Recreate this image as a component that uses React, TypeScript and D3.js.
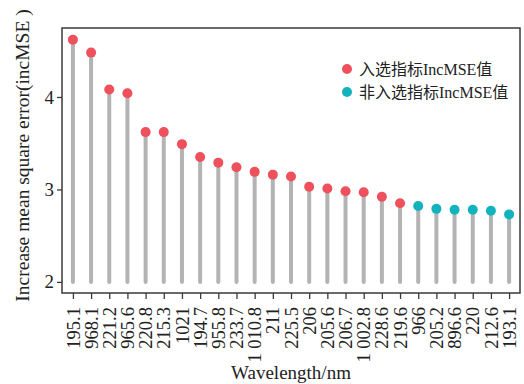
import { useEffect, useRef } from "react";

import * as d3 from "d3";

// wavelengths in order of importance
const wavelengths = [
  "195.1", "968.1", "221.2", "965.6", "220.8", "215.3", "1021", "194.7",
  "955.8", "233.7", "1 010.8", "211", "225.5", "206", "205.6", "206.7",
  "1 002.8", "228.6", "219.6", "966", "205.2", "896.6", "220", "212.6", "193.1",
];

const incMSE = [
  4.62, 4.48, 4.08, 4.04, 3.62, 3.62, 3.49, 3.35, 3.29, 3.24, 3.19, 3.16,
  3.14, 3.03, 3.01, 2.98, 2.97, 2.92, 2.85, 2.82, 2.79, 2.78, 2.78, 2.77, 2.73,
];

// first 19 wavelengths were selected
const selectedCount = 19;

const yTicks = [2, 3, 4];

const legendLabels = ["入选指标IncMSE值", "非入选指标IncMSE值"];
const colors = ["#ee505c", "#12b3bd"];

const App = () => {
  const svgRef = useRef<SVGSVGElement | null>(null);

  useEffect(() => {
    if (!svgRef.current) return;
    const width = 524;
    const height = 384;
    const margin = { top: 28, right: 4, bottom: 91, left: 62 };

    const svg = d3.select(svgRef.current);
    svg.selectAll("*").remove();

    svg
      .append("rect")
      .attr("width", width)
      .attr("height", height)
      .attr("fill", "#ffffff");

    const x = d3
      .scalePoint<string>()
      .domain(wavelengths.map((d, i) => i + ""))
      .range([margin.left, width - margin.right])
      .padding(0.6);

    const y = d3
      .scaleLinear()
      .domain([1.88, 4.746])
      .range([height - margin.bottom, margin.top]);

    const data = wavelengths.map((w, i) => ({
      key: i + "",
      label: w,
      value: incMSE[i],
      selected: i < selectedCount,
    }));

    const font = "Liberation Serif, DejaVu Serif, serif";
    const cjkFont = "Liberation Serif, Noto Sans CJK SC, serif";

    // stems
    svg
      .append("g")
      .selectAll("line")
      .data(data)
      .join("line")
      .attr("x1", (d) => x(d.key)!)
      .attr("x2", (d) => x(d.key)!)
      .attr("y1", y(2))
      .attr("y2", (d) => y(d.value))
      .attr("stroke", "#b3b3b3")
      .attr("stroke-width", 4)
      .attr("stroke-linecap", "round");

    // points
    svg
      .append("g")
      .selectAll("circle")
      .data(data)
      .join("circle")
      .attr("cx", (d) => x(d.key)!)
      .attr("cy", (d) => y(d.value))
      .attr("r", 5)
      .attr("fill", (d) => (d.selected ? colors[0] : colors[1]));

    // frame
    svg
      .append("rect")
      .attr("x", margin.left)
      .attr("y", margin.top)
      .attr("width", width - margin.left - margin.right)
      .attr("height", height - margin.top - margin.bottom)
      .attr("fill", "none")
      .attr("stroke", "#3a3a3a")
      .attr("stroke-width", 1.5);

    // y axis
    const yAxis = svg
      .append("g")
      .attr("transform", `translate(${margin.left},0)`)
      .call(
        d3
          .axisLeft(y)
          .tickValues(yTicks)
          .tickSize(5)
          .tickPadding(3)
          .tickFormat(d3.format("d"))
      );
    yAxis.select(".domain").remove();
    yAxis.selectAll("line").attr("stroke", "#3a3a3a").attr("stroke-width", 1.3);
    yAxis
      .selectAll("text")
      .style("font-family", font)
      .style("font-size", "19px")
      .attr("fill", "#222");

    // x axis
    const xAxis = svg
      .append("g")
      .attr("transform", `translate(0,${height - margin.bottom})`)
      .call(
        d3
          .axisBottom(x)
          .tickSize(6)
          .tickPadding(4)
          .tickFormat((d) => wavelengths[+d])
      );
    xAxis.select(".domain").remove();
    xAxis.selectAll("line").attr("stroke", "#3a3a3a").attr("stroke-width", 1.3);
    xAxis
      .selectAll("text")
      .style("font-family", font)
      .style("font-size", "18.5px")
      .attr("fill", "#222")
      .attr("transform", "rotate(-90)")
      .attr("x", -14)
      .attr("y", 0)
      .attr("dy", "0.33em")
      .style("text-anchor", "end");

    // axis titles
    svg
      .append("text")
      .attr("x", (margin.left + width - margin.right) / 2)
      .attr("y", 379)
      .attr("text-anchor", "middle")
      .style("font-family", font)
      .style("font-size", "19px")
      .attr("fill", "#222")
      .text("Wavelength/nm");

    svg
      .append("text")
      .attr("transform", `translate(29,${(margin.top + height - margin.bottom) / 2 - 5}) rotate(-90)`)
      .attr("text-anchor", "middle")
      .style("font-family", font)
      .style("font-size", "19.5px")
      .attr("fill", "#222")
      .text("Increase mean square error(incMSE )");

    // legend
    const legend = svg.append("g").attr("transform", "translate(347,69)");
    legendLabels.forEach((label, i) => {
      legend
        .append("circle")
        .attr("cx", 0)
        .attr("cy", i * 23)
        .attr("r", 5)
        .attr("fill", colors[i]);
      legend
        .append("text")
        .attr("x", 12)
        .attr("y", i * 23 + 6)
        .style("font-family", cjkFont)
        .style("font-size", "16px")
        .attr("fill", "#222")
        .text(label);
    });
  }, []);

  return (
    <svg
      ref={svgRef}
      width={524}
      height={384}
      style={{ position: "absolute", left: 0, top: 0 }}
    ></svg>
  );
};

export default App;
